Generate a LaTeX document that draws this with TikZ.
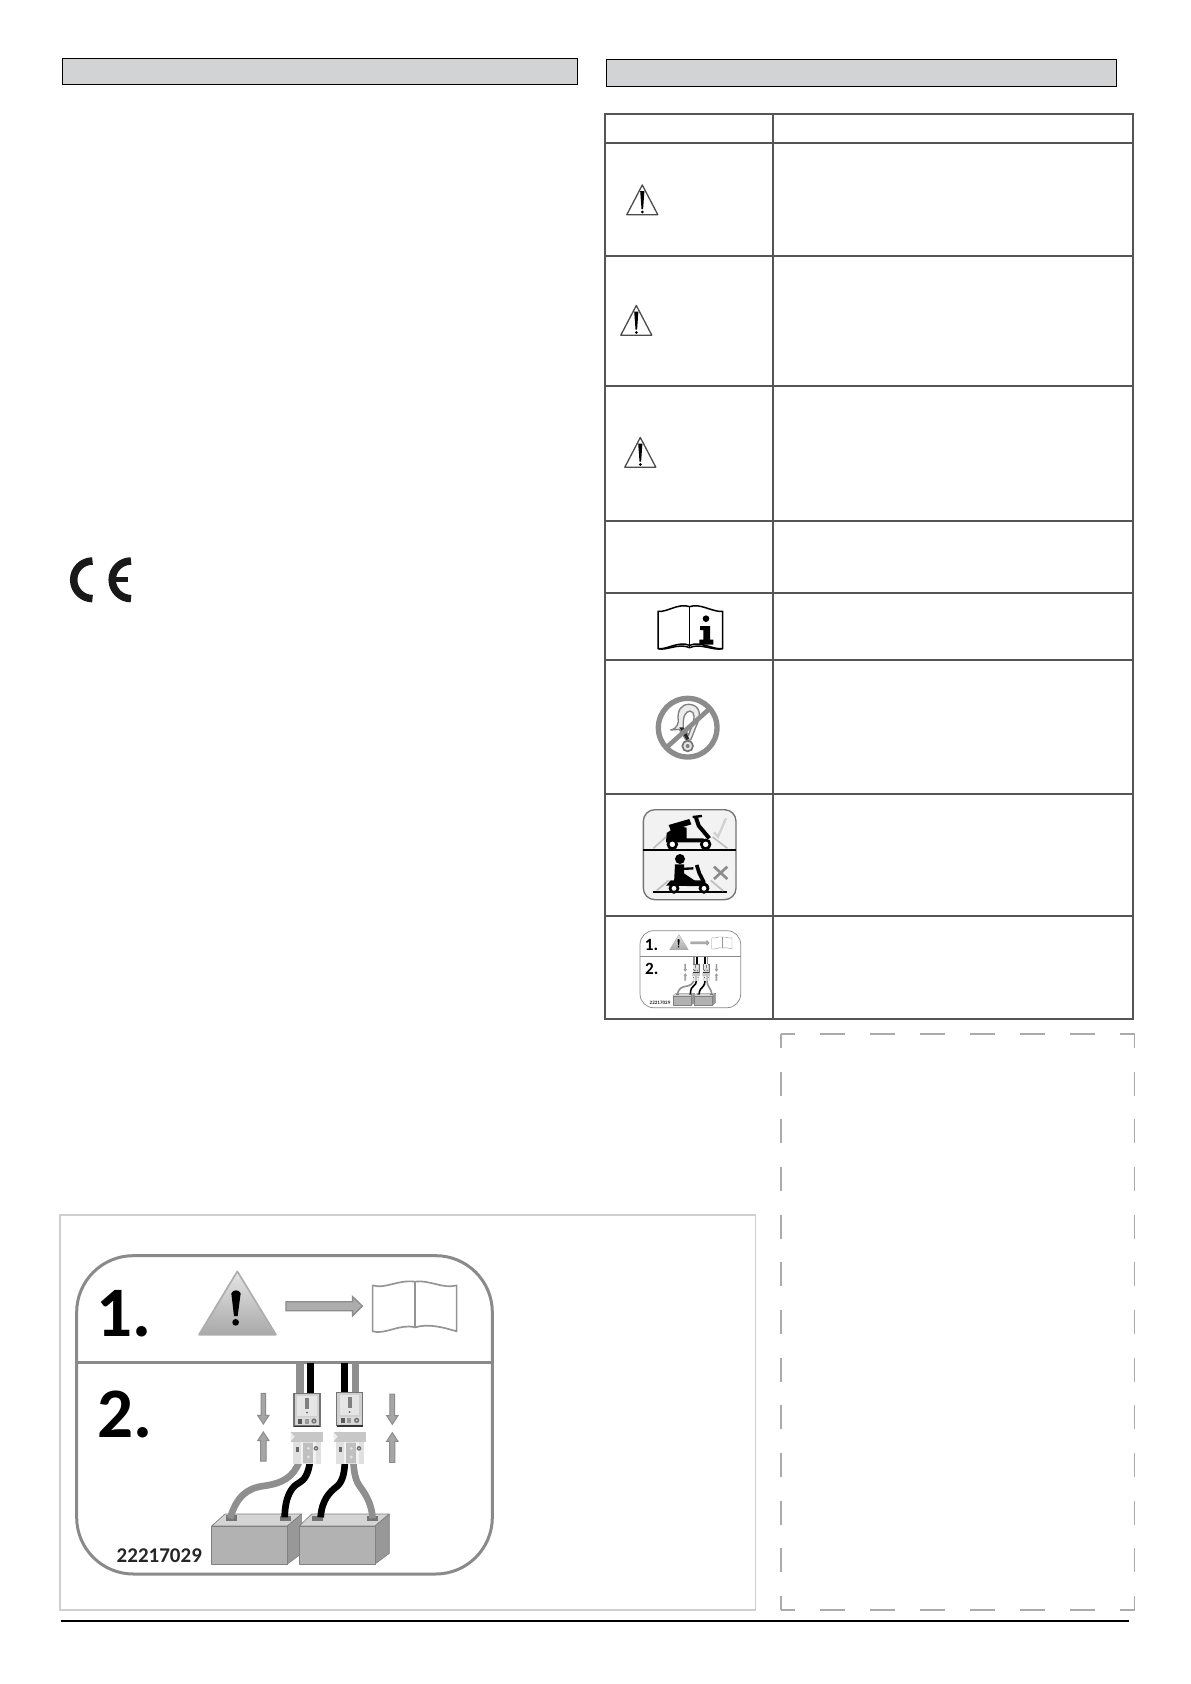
\documentclass[tikz,border=0pt]{standalone}
\usepackage{fontspec}
\setmainfont{Carlito}
\usetikzlibrary{arrows.meta}
\definecolor{hdrfill}{HTML}{D1D3D4}
\definecolor{tbl}{HTML}{555555}
\definecolor{lblline}{HTML}{8A8A8A}
\definecolor{connfill}{HTML}{CFCFCF}
\definecolor{battfront}{HTML}{B2B2B2}
\definecolor{batttop}{HTML}{D4D4D4}
\definecolor{battside}{HTML}{989898}
\definecolor{wiregray}{HTML}{8F8F8F}
\definecolor{dashgray}{HTML}{ABABAB}
\definecolor{framegray}{HTML}{CFCFCF}
\definecolor{icongray}{HTML}{8C8C8C}
\def\lsc{1}
\tikzset{
  lw/.style={line width=#1*\lsc pt},
  hdr/.style={draw=black,fill=hdrfill,line width=0.9pt},
  tblline/.style={draw=tbl,line width=2pt},
  dashline/.style={draw=dashgray,line width=1.8pt},
  warnline/.style={draw=black!70,line width=1.3pt,line join=round},
  ce/.style={draw=black!90,line width=7.5pt},
  bookline/.style={draw=black,line width=1.5pt,line join=round},
  wire/.style={line cap=butt,lw=#1},
  grayarrow/.style={draw=icongray,fill=black!35,lw=3,line join=miter},
  battf/.style={draw=black!50,lw=2,line join=round},
}
% warning triangle: apex at #1,#2
\newcommand{\warntri}[2]{%
  \begin{scope}[shift={(#1,#2)}]
    \draw[warnline] (0,0) -- (15.5,29.7) -- (-15.5,29.7) -- cycle;
    \fill[black] (-2.1,6) -- (2.1,6) -- (0.8,24) -- (-0.8,24) -- cycle;
    \fill[black] (0,27) circle[radius=1.5];
  \end{scope}}
% plug upper half, top-left at #1,#2 (label units)
\newcommand{\plugup}[2]{%
  \begin{scope}[shift={(#1,#2)}]
    \draw[draw=black!55,fill=connfill,lw=4] (0,0) rectangle (78,98);
    \fill[black!10] (10,8) rectangle (68,68);
    \fill[black!50] (33,14) rectangle (45,46);
    \fill[black!60] (39,58) circle[radius=3];
    \fill[white!85!black] (6,72) rectangle (72,95);
    \fill[black!65] (12,76) rectangle (24,92);
    \fill[black!40] (32,76) rectangle (44,92);
    \fill[black!55] (60,83) circle[radius=8];
    \fill[white!85!black] (60,83) circle[radius=3];
    \draw[black!80,lw=5] (0,99) -- (78,99);
  \end{scope}}
% plug lower half, top-left at #1,#2 (label units)
\newcommand{\plugdn}[2]{%
  \begin{scope}[shift={(#1,#2)}]
    \fill[black!22] (0,0) -- (98,0) -- (98,30) -- (0,30) -- cycle;
    \fill[black!7] (0,2) -- (12,15) -- (0,28) -- cycle;
    \fill[black!12] (8,30) rectangle (90,98);
    \fill[black!25] (38,34) rectangle (68,94);
    \fill[black!5] (32,30) rectangle (38,98);
    \fill[black!5] (68,30) rectangle (76,98);
    \fill[black!60] (16,46) rectangle (24,62);
    \fill[black!55] (76,50) circle[radius=7];
    \fill[black!10] (76,50) circle[radius=2.5];
    \fill[black!12] (53,50) circle[radius=5];
    \fill[black!12] (53,76) circle[radius=5];
  \end{scope}}
\newcommand{\vdown}[3]{% x, top y, bottom y
  \draw[grayarrow] (#1-7,#2) -- (#1+7,#2) -- (#1+7,#3-26) -- (#1+17,#3-26) -- (#1,#3) -- (#1-17,#3-26) -- (#1-7,#3-26) -- cycle;}
\newcommand{\vup}[3]{% x, bottom y, top y
  \draw[grayarrow] (#1-8,#2) -- (#1+8,#2) -- (#1+8,#3+26) -- (#1+17,#3+26) -- (#1,#3) -- (#1-17,#3+26) -- (#1-8,#3+26) -- cycle;}
% Battery label: origin #1,#2, scale #3, suffix #4 for node names
\newcommand{\batterylabel}[4]{%
  \begin{scope}[shift={(#1,#2)},scale=#3,transform shape]
    \def\lsc{#3}
    % frame and partition
    \draw[draw=lblline,lw=9,rounded corners={170*#3 pt}] (50,137) rectangle (1297,1092);
    \draw[lblline,lw=9] (50,456) -- (1297,456);
    % step numbers
    \node[anchor=base west,inner sep=0pt,text=black] (one#4) at (110,380) {\fontsize{213}{213}\selectfont\bfseries 1.};
    \node[anchor=base west,inner sep=0pt,text=black] (two#4) at (112,683) {\fontsize{213}{213}\selectfont\bfseries 2.};
    \node[anchor=base west,inner sep=0pt,text=black!85] (code#4) at (170,1056) {\fontsize{63}{63}\selectfont\bfseries 22217029};
    % warning triangle
    \draw[draw=black!32,top color=black!10,bottom color=black!34,lw=5,line join=round] (532,184) -- (648,374) -- (417,374) -- cycle;
    \fill[black] (514,250) .. controls (518,238) and (538,238) .. (542,250) -- (533,318) -- (522,318) -- cycle;
    \fill[black] (527,337) circle[radius=10];
    % arrow to book
    \draw[draw=icongray,fill=black!32,lw=4] (678,275) -- (878,275) -- (878,260) -- (907,288) -- (878,317) -- (878,302) -- (678,302) -- cycle;
    % open book
    \draw[draw=black!42,lw=5,line join=round,fill=white]
      (938,226) .. controls (975,238) and (1015,208) .. (1065,215)
      .. controls (1105,208) and (1150,238) .. (1190,226)
      -- (1190,364)
      .. controls (1150,352) and (1105,340) .. (1065,352)
      .. controls (1020,340) and (975,375) .. (938,364) -- cycle;
    \draw[draw=black!42,lw=5] (1065,215) -- (1065,352);
    % cables up to the partition
    \draw[wiregray,wire=22] (720,460) -- (720,552);
    \draw[black,wire=20] (752,460) -- (752,552);
    \draw[black,wire=20] (853,460) -- (853,550);
    \draw[wiregray,wire=20] (887,460) -- (887,550);
    % batteries
    \draw[battf,fill=batttop] (455,948) -- (495,912) -- (725,912) -- (682,948) -- cycle;
    \draw[battf,fill=battside] (682,948) -- (725,912) -- (725,1030) -- (682,1062) -- cycle;
    \draw[battf,fill=battfront] (455,948) rectangle (682,1062);
    \draw[battf,fill=batttop] (718,948) -- (755,912) -- (988,912) -- (945,948) -- cycle;
    \draw[battf,fill=battside] (945,948) -- (988,912) -- (988,1030) -- (945,1062) -- cycle;
    \draw[battf,fill=battfront] (718,948) rectangle (945,1062);
    \fill[black!55] (497,916) rectangle (530,932);
    \fill[black!55] (660,918) rectangle (692,934);
    \fill[black!55] (757,918) rectangle (790,934);
    \fill[black!55] (922,918) rectangle (955,934);
    % cables to the batteries
    \draw[wiregray,wire=20] (510,925) .. controls (530,860) and (560,835) .. (610,828) .. controls (670,820) and (700,800) .. (718,755);
    \draw[black,wire=20] (674,922) .. controls (675,860) and (695,830) .. (715,820) .. controls (735,810) and (745,790) .. (750,755);
    \draw[black,wire=20] (782,922) .. controls (785,870) and (810,845) .. (830,830) .. controls (848,815) and (853,790) .. (855,755);
    \draw[wiregray,wire=20] (938,925) .. controls (935,880) and (915,850) .. (900,830) .. controls (888,815) and (882,790) .. (880,755);
    % plugs
    \plugup{702}{550}
    \plugup{830}{548}
    \plugdn{692}{665}
    \plugdn{821}{665}
    % mating arrows
    \vdown{610}{550}{642}
    \vup{610}{753}{666}
    \vdown{997}{552}{643}
    \vup{997}{757}{668}
  \end{scope}}
\begin{document}
\begin{tikzpicture}[x=1pt,y=-1pt]
  \useasboundingbox (0,0) rectangle (1191,1684);
  \fill[white] (0,0) rectangle (1191,1684);
  % section headers
  \draw[hdr] (62.3,58) rectangle (577.5,84.5);
  \draw[hdr] (606,59.5) rectangle (1116,86.3);
  % table
  \draw[tblline] (605,113.5) rectangle (1133,1018.5);
  \draw[tblline] (772.7,113.5) -- (772.7,1018.5);
  \foreach \yy in {142.7,255.5,385.7,521,593,659.5,794,915.5}
    \draw[tblline] (605,\yy) -- (1133,\yy);
  % warning triangles
  \warntri{642.3}{185}
  \warntri{636.3}{305.5}
  \warntri{640.3}{437.5}
  % CE mark
  \draw[ce] (92.5,561) arc[start angle=270,end angle=90,radius=18.8];
  \draw[ce] (131,561) arc[start angle=270,end angle=90,radius=18.8];
  \draw[draw=black!90,line width=5.5pt] (112,579.5) -- (127.5,579.5);
  % manual symbol
  \begin{scope}[shift={(650,600)},scale=1/3,transform shape]
    \def\lsc{0.3333}
    \draw[bookline] (24,34) .. controls (50,38) and (85,8) .. (119,20)
      .. controls (150,8) and (190,38) .. (218,34) -- (218,146)
      .. controls (190,150) and (150,122) .. (119,136)
      .. controls (85,122) and (50,150) .. (24,146) -- cycle;
    \draw[bookline] (24,146) .. controls (50,153) and (85,128) .. (119,143) .. controls (150,128) and (190,153) .. (218,146);
    \draw[bookline] (119,20) -- (119,140);
    \fill[black] (168,56) circle[radius=10];
    \fill[black] (150,78) -- (180,78) -- (180,119) -- (190,119) -- (190,134) -- (148,134) -- (148,119) -- (160,119) -- (160,90) -- (150,90) -- cycle;
  \end{scope}
  % no-hook symbol
  \begin{scope}[shift={(650,690)},scale=1/3,transform shape]
    \def\lsc{0.3333}
    \draw[black!50,lw=4,line join=round,fill=black!8] (62,120) .. controls (72,118) and (82,112) .. (85,95) .. controls (80,60) and (95,42) .. (118,43) .. controls (150,45) and (155,75) .. (140,105) -- (122,150) -- (108,150) -- (88,118) -- cycle;
    \draw[black!50,lw=4,fill=white] (100,115) .. controls (98,80) and (105,65) .. (120,63) .. controls (135,65) and (135,85) .. (125,110) -- (116,135) -- cycle;
    \fill[black!85] (88,112) -- (100,112) -- (118,146) -- (110,150) -- cycle;
    \draw[black!55,lw=5,fill=black!10] (113,168) circle[radius=16];
    \fill[black!50] (113,168) circle[radius=6];
    \draw[icongray,lw=14] (50,172) -- (180,55);
    \draw[icongray,lw=16] (113,113) circle[radius=88];
  \end{scope}
  % tie-down symbol
  \begin{scope}[shift={(640,805)},scale=1/3,transform shape]
    \def\lsc{0.3333}
    \draw[draw=black!55,fill=black!5,lw=4,rounded corners=11.5pt] (10,14) rectangle (288,284);
    \draw[black,lw=6] (10,134) -- (288,134);
    % upper row
    \draw[black!25,lw=5] (40,130) -- (78,96);
    \draw[black!25,lw=5] (218,96) -- (262,130);
    \draw[black!18,lw=7,line join=miter] (222,82) -- (234,95) -- (258,40);
    \fill[black] (86,60) -- (148,42) -- (154,58) -- (128,66) -- (140,68) -- (140,100) -- (190,100) -- (200,112) -- (112,112) -- (78,112) -- (80,84) -- (92,76) -- cycle;
    \draw[black,lw=12,line join=round] (168,38) -- (176,62) -- (208,100);
    \draw[black,lw=7] (158,36) -- (186,33);
    \draw[black,lw=8,fill=white] (97,118) circle[radius=13];
    \draw[black,lw=8,fill=white] (197,118) circle[radius=13];
    % lower row
    \draw[black,lw=6] (38,262) -- (262,262);
    \draw[black!25,lw=5] (50,257) -- (86,226);
    \draw[black!25,lw=5] (212,226) -- (250,258);
    \draw[icongray,lw=8] (222,185) -- (262,222) (262,185) -- (222,222);
    \fill[black] (120,162) circle[radius=15];
    \fill[black] (105,178) -- (132,178) -- (132,205) -- (172,232) -- (150,242) -- (102,236) -- cycle;
    \draw[black,lw=7] (120,192) -- (160,190);
    \fill[black] (78,242) -- (92,226) -- (190,226) -- (208,244) -- cycle;
    \draw[black,lw=11,line join=round] (170,180) -- (178,205) -- (192,232);
    \draw[black,lw=8,fill=white] (102,250) circle[radius=12];
    \draw[black,lw=8,fill=white] (192,250) circle[radius=12];
  \end{scope}
  % small battery label in the table
  \batterylabel{636}{919.6}{0.0807}{Small}
  % large battery label and its frame
  \draw[draw=framegray,line width=1.2pt] (60,1215) rectangle (755.5,1609.5);
  \draw[draw=framegray,line width=1.2pt] (59.4,1610) -- (756,1610);
  \batterylabel{60}{1210}{0.33333}{Large}
  % dashed box
  \draw[dashline,dash pattern=on 25pt off 25pt,dash phase=11pt] (781,1034) -- (1135,1034);
  \draw[dashline,dash pattern=on 25pt off 25pt,dash phase=11pt] (781,1610) -- (1135,1610);
  \draw[dashline,dash pattern=on 24pt off 23.67pt,dash phase=10pt] (781,1034) -- (781,1610);
  \draw[dashline,dash pattern=on 24pt off 23.67pt,dash phase=10pt] (1134.5,1034) -- (1134.5,1610);
  % footer rule
  \draw[draw=black,line width=1.3pt] (61,1621) -- (1129,1621);
\end{tikzpicture}
\end{document}
